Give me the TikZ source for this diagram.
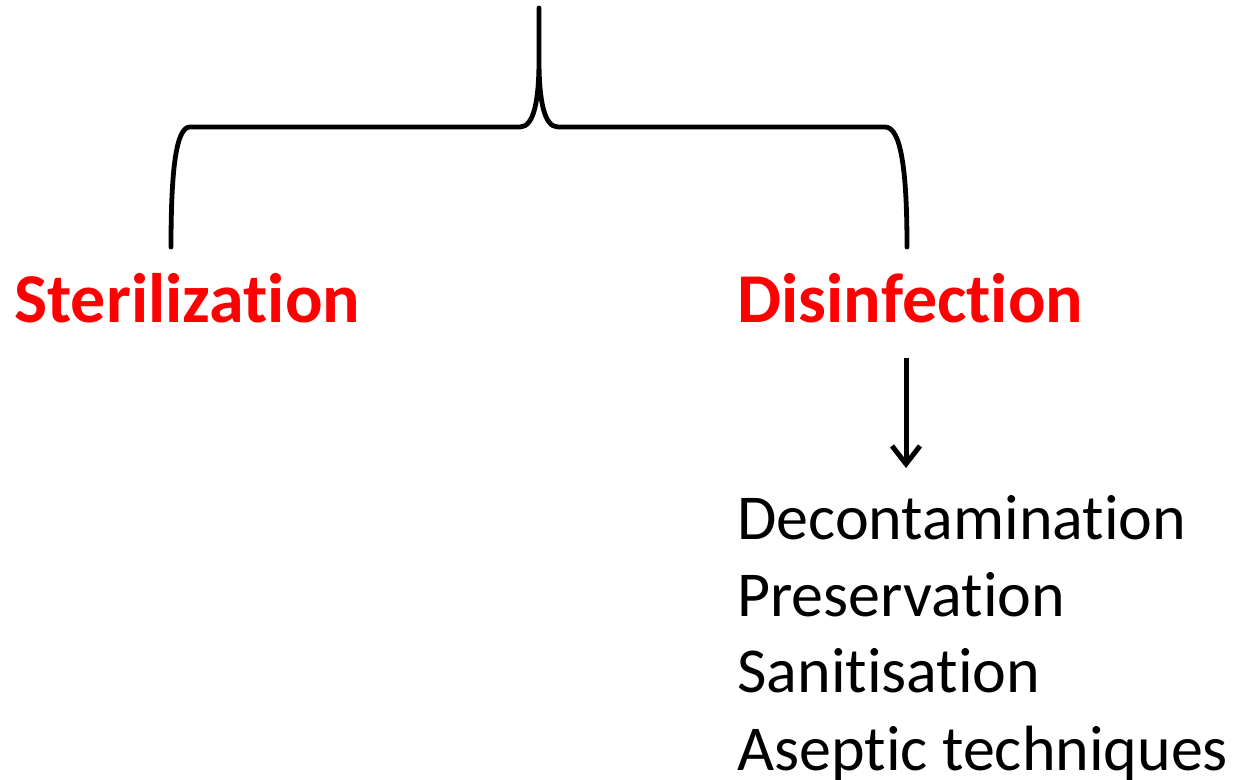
\documentclass[tikz,border=0pt]{standalone}
\usepackage{fontspec}
\setmainfont{Carlito}[Ligatures={NoCommon,NoRequired,NoContextual},RawFeature={-liga;-clig;-dlig;-calt}]
\usetikzlibrary{arrows.meta}
\begin{document}
\begin{tikzpicture}[x=0.5pt,y=-0.5pt]

        \useasboundingbox (0,0) rectangle (1233,780);

        \tikzset{
          head/.style={inner sep=0pt, anchor=base west, text=red,
            font=\fontsize{35}{42}\selectfont\bfseries},
          item/.style={inner sep=0pt, anchor=base west,
            font=\fontsize{32}{38}\selectfont},
          bracket/.style={line width=2.4pt, line cap=round, line join=round},
          down/.style={line width=2.5pt, -{Straight Barb[length=9pt,width=14pt,line width=2.5pt]}}
        }

        \node[head] (ster)   at (14,323)  {Sterilization};
        \node[head] (disinf) at (737,323) {Disinfection};

        \node[item] (decon)  at (737,540) {Decontamination};
        \node[item] (preser) at (737,617) {Preservation};
        \node[item] (sanit)  at (737,693) {Sanitisation};
        \node[item] (asep)   at (737,770) {Aseptic techniques};

        \coordinate (top)  at (539,8);
        \coordinate (lend) at (171,247);
        \coordinate (rend) at (907,247);
        \coordinate (afrom) at (906,358);
        \coordinate (ato)   at (906,468);

        \draw[bracket] (lend) .. controls (171,170) and (176,127) .. (190,127)
          -- (520,127) .. controls (534,127) and (539,100) .. (539,60) -- (top)
          -- (539,60) .. controls (539,100) and (544,127) .. (558,127)
          -- (885,127) .. controls (901,127) and (907,170) .. (rend);

        \draw[down] (afrom) -- (ato);

      \end{tikzpicture}
\end{document}
